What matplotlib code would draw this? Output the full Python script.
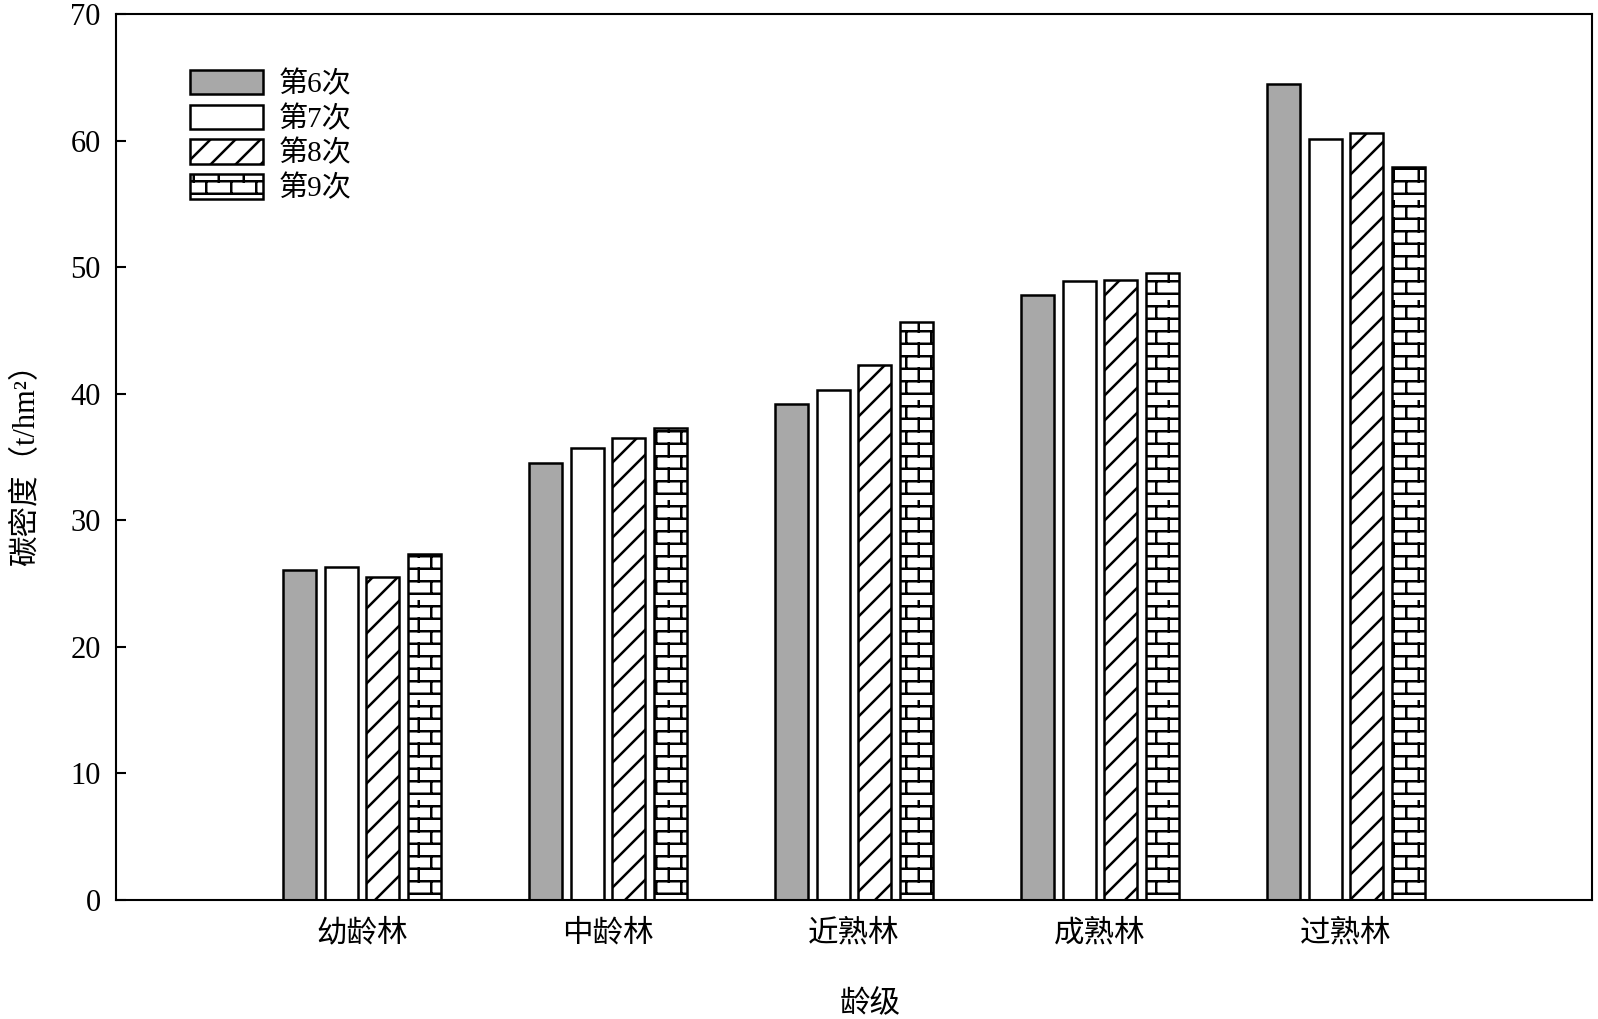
import numpy as np
import matplotlib
matplotlib.use("Agg")
import matplotlib.pyplot as plt
import matplotlib.hatch as mhatch
from matplotlib.path import Path

categories = ["幼龄林", "中龄林", "近熟林", "成熟林", "过熟林"]
series_names = ["第6次", "第7次", "第8次", "第9次"]
v6 = [26.1, 34.5, 39.2, 47.8, 64.5]
v7 = [26.3, 35.7, 40.3, 48.9, 60.1]
v8 = [25.5, 36.5, 42.3, 49.0, 60.6]
v9 = [27.3, 37.3, 45.7, 49.5, 57.9]
yticks = [0, 10, 20, 30, 40, 50, 60, 70]


class DiagHatch(mhatch.HatchPatternBase):
    def __init__(self, hatch, density):
        self.num_lines = hatch.count('/') * 8
        self.num_vertices = (self.num_lines + 1) * 2 if self.num_lines else 0

    def set_vertices_and_codes(self, vertices, codes):
        steps = np.linspace(-0.5, 0.5, self.num_lines + 1)
        vertices[0::2, 0] = 0.0 + steps
        vertices[0::2, 1] = 0.0 - steps
        vertices[1::2, 0] = 1.0 + steps
        vertices[1::2, 1] = 1.0 - steps
        codes[0::2] = Path.MOVETO
        codes[1::2] = Path.LINETO


class BrickHatch(mhatch.HatchPatternBase):
    rows = 8
    cols = 4

    def __init__(self, hatch, density):
        n = hatch.count('+')
        self.num_vertices = (self.rows + self.rows * self.cols) * 2 if n else 0

    def set_vertices_and_codes(self, vertices, codes):
        h = 1.0 / self.rows
        w = 1.0 / self.cols
        segs = []
        for r in range(self.rows):
            y = r * h + h / 2
            segs.append(((0.0, y), (1.0, y)))
            off = w / 4 + (w / 2 if r % 2 else 0.0)
            for c in range(self.cols):
                x = off + c * w
                segs.append(((x, y), (x, y + h)))
        for i, (a, b) in enumerate(segs):
            vertices[2 * i] = a
            vertices[2 * i + 1] = b
            codes[2 * i] = Path.MOVETO
            codes[2 * i + 1] = Path.LINETO


mhatch._hatch_types[:] = [DiagHatch, BrickHatch]

plt.rcParams['font.family'] = ['Liberation Serif', 'Noto Sans CJK SC']
plt.rcParams['hatch.linewidth'] = 1.8
plt.rcParams['hatch.color'] = 'black'

fig = plt.figure(figsize=(15.98, 10.19), dpi=100)
ax = fig.add_axes([0.0726, 0.1168, 0.9236, 0.8695])

x = np.arange(len(categories))
width = 0.134
pitch = 0.170
series = [v6, v7, v8, v9]
faces = ['#a8a8a8', 'white', 'white', 'white']
hatches = [None, None, '/', '+']
for i, (vals, name) in enumerate(zip(series, series_names)):
    ax.bar(x + (i - 1.5) * pitch, vals, width, color=faces[i],
           edgecolor='black', linewidth=1.8, hatch=hatches[i], label=name,
           zorder=2)

ax.set_xlim(-1, 5)
ax.set_ylim(0, 70)
ax.set_yticks(yticks)
ax.set_xticks(x)
ax.set_xticklabels(categories, fontsize=22)
ax.tick_params(axis='x', length=0, pad=14)
ax.tick_params(axis='y', direction='in', length=7, width=1.5, labelsize=22, pad=11)
for s in ax.spines.values():
    s.set_linewidth(1.5)

ax.set_xlabel("龄级", fontsize=22)
ax.xaxis.set_label_coords(0.511, -0.101)
ax.set_ylabel("碳密度（t/hm²）", fontsize=22, labelpad=21)

leg = ax.legend(loc='upper left', bbox_to_anchor=(0.05, 0.937), frameon=False,
                fontsize=21, handlelength=2.5, handleheight=0.92,
                labelspacing=0.22, handletextpad=0.55, borderpad=0,
                borderaxespad=0)

fig.savefig("out.png", dpi=100)
